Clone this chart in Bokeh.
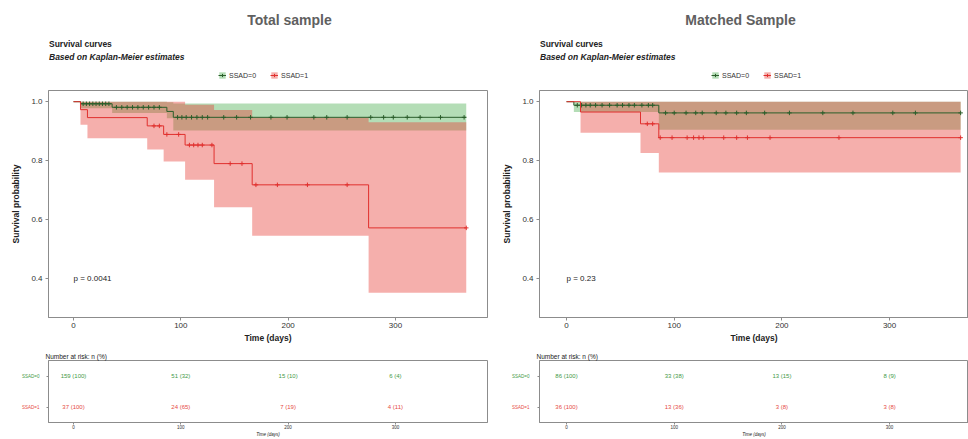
import numpy as np
from bokeh.plotting import figure
from bokeh.layouts import row, column
from bokeh.models import (Legend, LegendItem, Range1d, FixedTicker, Title,
                          PrintfTickFormatter)
from bokeh.core.properties import value
from bokeh.embed import file_html
from bokeh.resources import INLINE

FONT = "Liberation Sans"
GREEN_LINE = "#2b5e2b"
GREEN_FILL = "#4caf50"
GREEN_TEXT = "#3f9a47"
RED_LINE = "#e0302e"
RED_FILL = "#e8403a"
RED_TEXT = "#e64b45"
BOX = "#8c8c8c"
INK = "#222222"

# ---------------- data ----------------
time_ticks = [0, 100, 200, 300]
surv_ticks = [0.4, 0.6, 0.8, 1.0]
group_labels = ["SSAD=0", "SSAD=1"]

# Total sample, SSAD=0
total_g_time = [0, 6.5, 36, 87, 93]
total_g_surv = [1.0, 0.993, 0.981, 0.967, 0.947]
total_g_lower = [1.0, 0.978, 0.962, 0.944, 0.902]
total_g_upper = [1.0, 1.0, 1.0, 0.998, 0.994]
total_g_end = 366
total_g_censor = [9, 12, 15, 18, 21, 24, 27, 30, 33, 40, 45, 50, 55, 60, 65, 70, 75, 80,
                  97, 101, 105, 110, 115, 120, 125, 140, 152, 165, 184, 199, 224, 236,
                  255, 277, 289, 298, 311, 323, 342, 364]

# Total sample, SSAD=1
total_r_time = [0, 6.5, 13, 68.7, 84, 104, 131, 166.5, 275]
total_r_surv = [1.0, 0.973, 0.946, 0.918, 0.889, 0.853, 0.790, 0.718, 0.572]
total_r_lower = [1.0, 0.922, 0.876, 0.838, 0.797, 0.735, 0.642, 0.545, 0.352]
total_r_upper = [1.0, 1.0, 1.0, 1.0, 1.0, 0.99, 0.972, 0.946, 0.93]
total_r_end = 366
total_r_censor = [75, 80, 87, 98, 108, 112, 116, 120, 129, 146, 157, 170, 190, 218, 255, 366]

# Matched sample, SSAD=0
matched_g_time = [0, 6.8, 85.7]
matched_g_surv = [1.0, 0.988, 0.962]
matched_g_lower = [1.0, 0.965, 0.905]
matched_g_upper = [1.0, 1.0, 1.0]
matched_g_end = 366
matched_g_censor = [10, 14, 18, 22, 27, 33, 40, 47, 52, 58, 63, 70, 76, 80, 92, 100, 111,
                    120, 126, 139, 148, 158, 167, 184, 207, 238, 266, 303, 324, 366]

# Matched sample, SSAD=1
matched_r_time = [0, 13, 68.7, 85.7]
matched_r_surv = [1.0, 0.965, 0.925, 0.878]
matched_r_lower = [1.0, 0.895, 0.826, 0.760]
matched_r_upper = [1.0, 1.0, 1.0, 1.0]
matched_r_end = 366
matched_r_censor = [75, 80, 87, 98, 112, 118, 123, 127, 146, 158, 168, 189, 253, 366]

# Number at risk at 0, 100, 200, 300 days: count and percent
total_g_risk_n = [159, 51, 15, 6]
total_g_risk_pct = [100, 32, 10, 4]
total_r_risk_n = [37, 24, 7, 4]
total_r_risk_pct = [100, 65, 19, 11]
matched_g_risk_n = [86, 33, 13, 8]
matched_g_risk_pct = [100, 38, 15, 9]
matched_r_risk_n = [36, 13, 3, 3]
matched_r_risk_pct = [100, 36, 8, 8]

total_pval = "p = 0.0041"
matched_pval = "p = 0.23"

# ---------------- layout geometry ----------------
HEAD_H = 86
MAIN_H, MAIN_TOP, MAIN_BOTTOM = 259, 4, 28
TAB_H, TAB_TOP, TAB_BOTTOM = 94, 15, 13
ROWLAB_W = 40
Y_RANGE = (0.268, 1.038)


def step_xy(times, vals, end):
    return list(times) + [end], list(vals) + [vals[-1]]


def surv_at(times, surv, t):
    idx = np.searchsorted(np.asarray(times), np.asarray(t), side="right") - 1
    return list(np.asarray(surv)[idx])


def blank_fig(w, h, xr, yr):
    f = figure(width=w, height=h, output_backend="svg", toolbar_location=None,
               x_range=Range1d(*xr), y_range=Range1d(*yr), title=None,
               x_axis_type=None, y_axis_type=None, min_border=0)
    f.outline_line_color = None
    f.grid.visible = False
    return f


def put_text(f, x, y, text, size, color=INK, align="left", style="normal"):
    f.text(x=[x], y=[y], text=[text], text_font=value(FONT), text_font_size=size,
           text_color=color, text_align=align, text_baseline="middle",
           text_font_style=style)


def style_axis(ax, size, tick_out):
    ax.axis_line_color = BOX
    ax.major_tick_line_color = BOX
    ax.minor_tick_line_color = None
    ax.major_tick_out = tick_out
    ax.major_tick_in = 0
    ax.major_label_text_font = FONT
    ax.major_label_text_font_size = size
    ax.major_label_text_color = "#333333"
    ax.axis_label_text_font = FONT
    ax.axis_label_text_color = INK


def build_panel(title, title_x, curves, pval, risk, fig_w, left, right, xr, legend_x):
    # curves: list of (time, surv, lower, upper, end, censor, line, fill)
    colors_line = [c[6] for c in curves]
    colors_fill = [c[7] for c in curves]

    # --- header: title, subtitle and legend (its frame lines up with the plot frame,
    #     so the ranges are local pixel positions across that frame) ---
    h = blank_fig(fig_w, HEAD_H, (left, fig_w - right), (HEAD_H, 0))
    put_text(h, title_x, 19, title, "14px", color="#606060", align="center", style="bold")
    put_text(h, left + 0.5, 43, "Survival curves", "8.5px", style="bold")
    put_text(h, left + 0.5, 56, "Based on Kaplan-Meier estimates", "8.5px",
             style="bold italic")
    items = []
    off = -10000  # legend-only renderers, kept out of view
    for i in range(2):
        rb = h.varea(x=[off, off + 1], y1=[off, off], y2=[off + 1, off + 1],
                     fill_color=colors_fill[i], fill_alpha=0.42)
        rl = h.line(x=[off, off + 1], y=[off, off], line_color=colors_line[i], line_width=1)
        rm = h.scatter(x=[off], y=[off], marker="cross", size=5, line_color=colors_line[i])
        items.append(LegendItem(label=group_labels[i], renderers=[rb, rl, rm]))
    legend = Legend(items=items, orientation="horizontal", location=(legend_x - left, 7),
                    label_text_font=FONT, label_text_font_size="7px",
                    label_text_color="#333333", glyph_width=8, glyph_height=8,
                    label_standoff=3, spacing=14, padding=0, margin=0,
                    border_line_alpha=0, background_fill_alpha=0)
    h.add_layout(legend, "center")

    # --- survival curves ---
    p = figure(width=fig_w, height=MAIN_H, output_backend="svg", toolbar_location=None,
               x_range=Range1d(*xr), y_range=Range1d(*Y_RANGE), title=None,
               min_border_left=left, min_border_right=right,
               min_border_top=MAIN_TOP, min_border_bottom=MAIN_BOTTOM)
    p.outline_line_color = BOX
    p.grid.visible = False

    for (t, s, lo, hi, end, cens, lc, fc) in curves:
        xs, y_lo = step_xy(t, lo, end)
        _, y_hi = step_xy(t, hi, end)
        p.varea_step(x=xs, y1=y_lo, y2=y_hi, step_mode="after",
                     fill_color=fc, fill_alpha=0.42)
    for (t, s, lo, hi, end, cens, lc, fc) in curves:
        xs, ys = step_xy(t, s, end)
        p.step(x=xs, y=ys, mode="after", line_color=lc, line_width=1)
        p.scatter(x=cens, y=surv_at(t, s, cens), marker="cross", size=4.5,
                  line_color=lc, line_width=1)

    style_axis(p.xaxis[0], "8px", 3)
    style_axis(p.yaxis[0], "8px", 3)
    p.xaxis.ticker = FixedTicker(ticks=time_ticks)
    p.yaxis.ticker = FixedTicker(ticks=surv_ticks)
    p.yaxis.formatter = PrintfTickFormatter(format="%.1f")
    p.xaxis.axis_label = "Time (days)"
    p.xaxis.axis_label_text_font_size = "8.5px"
    p.xaxis.axis_label_text_font_style = "bold"
    p.xaxis.major_label_standoff = 2
    p.xaxis.axis_label_standoff = 2
    p.yaxis.axis_label = "Survival probability"
    p.yaxis.axis_label_text_font_size = "8.5px"
    p.yaxis.axis_label_text_font_style = "bold"
    p.yaxis.major_label_standoff = 3
    p.yaxis.axis_label_standoff = 7
    p.text(x=[0], y=[0.4], text=[pval], text_font=value(FONT), text_font_size="8px",
           text_color=INK, text_baseline="middle")

    # --- number at risk table ---
    tw = fig_w - ROWLAB_W
    q = figure(width=tw, height=TAB_H, output_backend="svg", toolbar_location=None,
               x_range=Range1d(*xr), y_range=Range1d(0.5, 2.5),
               min_border_left=left - ROWLAB_W, min_border_right=right,
               min_border_top=TAB_TOP, min_border_bottom=TAB_BOTTOM)
    q.title = Title(text="Number at risk: n (%)", align="left", offset=-3, standoff=2,
                    text_font=FONT, text_font_size="6.5px", text_color=INK,
                    text_font_style="normal")
    q.outline_line_color = BOX
    q.grid.visible = False
    style_axis(q.xaxis[0], "4.5px", 2)
    style_axis(q.yaxis[0], "4.5px", 2)
    q.xaxis.major_label_standoff = 0
    q.xaxis.axis_label = "Time (days)"
    q.xaxis.axis_label_text_font_size = "4.5px"
    q.xaxis.axis_label_standoff = 0
    q.xaxis.ticker = FixedTicker(ticks=time_ticks)
    q.yaxis.ticker = FixedTicker(ticks=[1, 2])
    q.yaxis.major_label_overrides = {1: "", 2: ""}
    q.yaxis.major_label_standoff = 0

    rows = [2, 1]
    text_colors = [GREEN_TEXT, RED_TEXT]
    for i, (n, pct) in enumerate(risk):
        texts = [f"{a} ({b})" for a, b in zip(n, pct)]
        q.text(x=time_ticks, y=[rows[i]] * len(time_ticks), text=texts,
               text_font=value(FONT), text_font_size="6px", text_color=text_colors[i],
               text_align="center", text_baseline="middle")

    # strata names beside the table rows; the frame spans the table's rows vertically
    r = blank_fig(ROWLAB_W, TAB_H, (0, ROWLAB_W), (0.5, 2.5))
    for i in range(2):
        put_text(r, ROWLAB_W - 1, rows[i], group_labels[i], "4.5px",
                 color=text_colors[i], align="right")

    return column(h, p, row(r, q, spacing=0), spacing=0)


left_panel = build_panel(
    "Total sample", 289,
    [(total_g_time, total_g_surv, total_g_lower, total_g_upper, total_g_end, total_g_censor,
      GREEN_LINE, GREEN_FILL),
     (total_r_time, total_r_surv, total_r_lower, total_r_upper, total_r_end, total_r_censor,
      RED_LINE, RED_FILL)],
    total_pval,
    [(total_g_risk_n, total_g_risk_pct), (total_r_risk_n, total_r_risk_pct)],
    490, 48, 3, (-23.3, 385.8), 218)

right_panel = build_panel(
    "Matched Sample", 740 - 490,
    [(matched_g_time, matched_g_surv, matched_g_lower, matched_g_upper, matched_g_end,
      matched_g_censor, GREEN_LINE, GREEN_FILL),
     (matched_r_time, matched_r_surv, matched_r_lower, matched_r_upper, matched_r_end,
      matched_r_censor, RED_LINE, RED_FILL)],
    matched_pval,
    [(matched_g_risk_n, matched_g_risk_pct), (matched_r_risk_n, matched_r_risk_pct)],
    478, 49, 0, (-25.1, 373.3), 711 - 490)

layout = row(left_panel, right_panel, spacing=0)
open("out.html", "w").write(file_html(layout, INLINE))
